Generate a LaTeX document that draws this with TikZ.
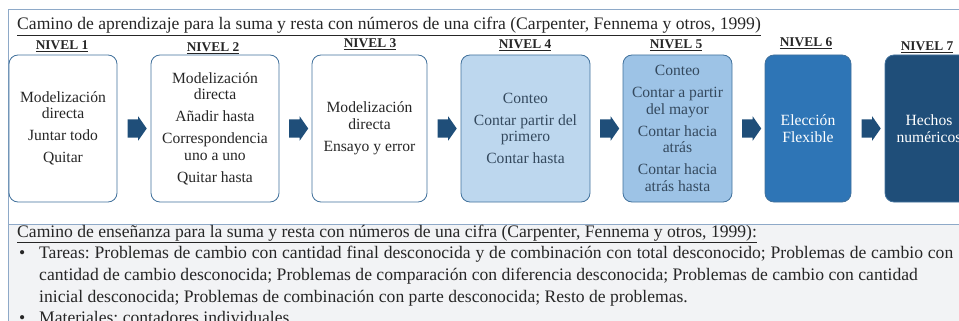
\documentclass[tikz,border=0pt]{standalone}
\usepackage{fontspec}
\setmainfont{Liberation Serif}
\usetikzlibrary{shapes.arrows, calc}
\frenchspacing

\definecolor{frameedge}{HTML}{8EA9C8}
\definecolor{boxedge}{HTML}{41719C}
\definecolor{lowgray}{HTML}{F2F3F5}
\definecolor{nivfour}{HTML}{BDD7EE}
\definecolor{nivfive}{HTML}{9DC3E6}
\definecolor{nivsix}{HTML}{2E75B6}
\definecolor{nivseven}{HTML}{1F4E79}
\definecolor{arrowblue}{HTML}{1F4E79}
\definecolor{darktext}{HTML}{262626}
\definecolor{slatetext}{HTML}{34495E}

\begin{document}
\begin{tikzpicture}[x=1pt, y=1pt]
  \tikzset{nivelbox/.style={rectangle, rounded corners=9pt, draw=boxedge, line width=0.8pt,
      minimum height=147pt, inner sep=1pt, align=center, text=darktext,
      font=\fontsize{15.6}{16.5}\selectfont}}
  \tikzset{nivellabel/.style={anchor=base, inner sep=0pt, text=darktext,
      font=\fontsize{13.4}{13.4}\selectfont\bfseries}}
  \tikzset{steparrow/.style={single arrow, fill=arrowblue, draw=none, inner xsep=0pt,
      inner ysep=9pt, minimum height=19pt, single arrow head extend=3pt,
      single arrow tip angle=110}}
  \tikzset{bodytext/.style={anchor=base west, inner sep=0pt, text=darktext,
      font=\fontsize{17.6}{17.6}\selectfont}}

  \useasboundingbox (0,0) rectangle (959,-321);
  \clip (0,0) rectangle (959,-321);

  % frame and lower part
  \fill[lowgray] (8,-224) rectangle (962,-324);
  \draw[frameedge, line width=0.8pt] (8,-324) -- (8,-9) -- (962,-9);
  \draw[frameedge, line width=0.8pt] (8,-224) -- (962,-224);

  \node[bodytext] (title) at (17,-30)
    {\underline{Camino de aprendizaje para la suma y resta con números de una cifra (Carpenter, Fennema y otros, 1999)}};

  \node[nivellabel] (l1) at (62,-50) {\underline{NIVEL 1}};
  \node[nivellabel] (l2) at (213,-52) {\underline{NIVEL 2}};
  \node[nivellabel] (l3) at (370,-48) {\underline{NIVEL 3}};
  \node[nivellabel] (l4) at (525,-49) {\underline{NIVEL 4}};
  \node[nivellabel] (l5) at (676,-49) {\underline{NIVEL 5}};
  \node[nivellabel] (l6) at (806,-47) {\underline{NIVEL 6}};
  \node[nivellabel] (l7) at (927,-51) {\underline{NIVEL 7}};

  \node[nivelbox, fill=white, minimum width=108pt] (n1) at (63,-128.5)
    {Modelización\\directa\\[5.5pt]Juntar todo\\[5.5pt]Quitar};
  \node[nivelbox, fill=white, minimum width=128pt] (n2) at (215,-128.5)
    {Modelización\\directa\\[5.5pt]Añadir hasta\\[5.5pt]Correspondencia\\uno a uno\\[5.5pt]Quitar hasta};
  \node[nivelbox, fill=white, minimum width=115pt] (n3) at (369.5,-128.5)
    {Modelización\\directa\\[5.5pt]Ensayo y error};
  \node[nivelbox, fill=nivfour, text=slatetext, minimum width=129pt] (n4) at (525.5,-128.5)
    {Conteo\\[5.5pt]Contar partir del\\primero\\[5.5pt]Contar hasta};
  \node[nivelbox, fill=nivfive, text=slatetext, minimum width=109pt] (n5) at (677.5,-128.5)
    {Conteo\\[5.5pt]Contar a partir\\del mayor\\[5.5pt]Contar hacia\\atrás\\[5.5pt]Contar hacia\\atrás hasta};
  \node[nivelbox, fill=nivsix, text=white, minimum width=86pt] (n6) at (808,-128.5)
    {Elección\\Flexible};
  \node[nivelbox, fill=nivseven, text=white, minimum width=88pt] (n7) at (929,-128.5)
    {Hechos\\numéricos};

  \node[steparrow] (a12) at ($(n1.east)!0.5!(n2.west)$) {};
  \node[steparrow] (a23) at ($(n2.east)!0.5!(n3.west)$) {};
  \node[steparrow] (a34) at ($(n3.east)!0.5!(n4.west)$) {};
  \node[steparrow] (a45) at ($(n4.east)!0.5!(n5.west)$) {};
  \node[steparrow] (a56) at ($(n5.east)!0.5!(n6.west)$) {};
  \node[steparrow] (a67) at ($(n6.east)!0.5!(n7.west)$) {};

  % teaching path
  \node[bodytext] (title2) at (17,-237)
    {\underline{Camino de enseñanza para la suma y resta con números de una cifra (Carpenter, Fennema y otros, 1999):}};
  \node[bodytext] (b1) at (19,-258) {\textbullet};
  \node[bodytext] (t1) at (39,-258)
    {\makebox[914pt][s]{Tareas: Problemas de cambio con cantidad final desconocida y de combinación con total desconocido; Problemas de cambio con}};
  \node[bodytext] (t2) at (39,-280)
    {cantidad de cambio desconocida; Problemas de comparación con diferencia desconocida; Problemas de cambio con cantidad};
  \node[bodytext] (t3) at (39,-302)
    {inicial desconocida; Problemas de combinación con parte desconocida; Resto de problemas.};
  \node[bodytext] (b2) at (19,-323) {\textbullet};
  \node[bodytext] (t4) at (39,-323) {Materiales: contadores individuales};
\end{tikzpicture}
\end{document}
